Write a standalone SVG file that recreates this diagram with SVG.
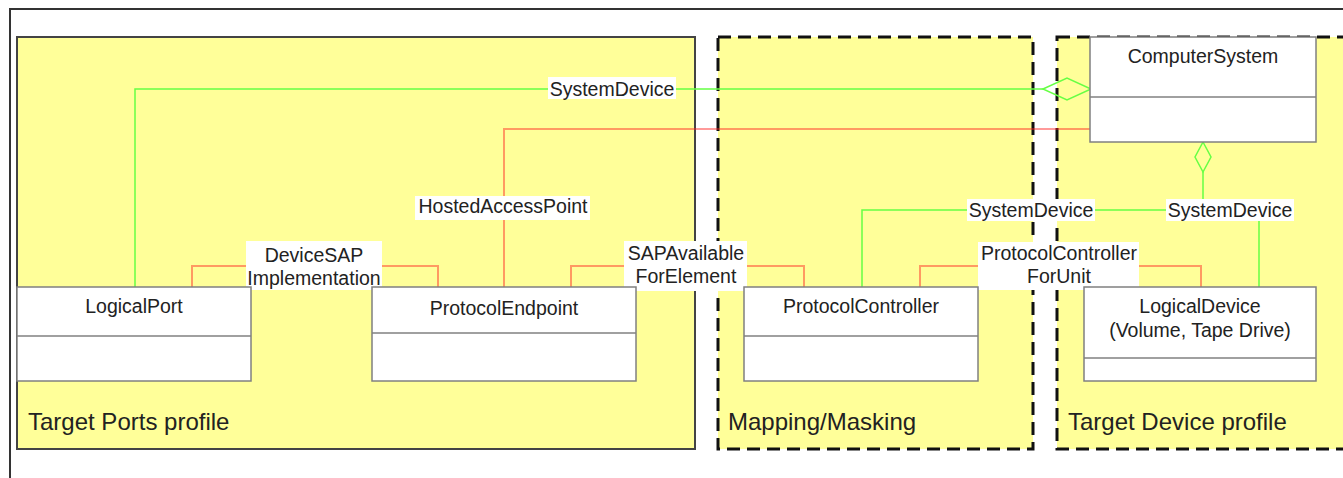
<svg xmlns="http://www.w3.org/2000/svg" width="1343" height="478" viewBox="0 0 1343 478">
<style>
text{font-family:"Liberation Sans",Arial,sans-serif;fill:#222}
.panel{fill:#ffff99}
.solid{stroke:#444;stroke-width:2}
.dash{stroke:#111;stroke-width:3;stroke-dasharray:13 7}
.box{fill:#fff;stroke:#808080;stroke-width:1.5}
.div{stroke:#808080;stroke-width:1.5}
.nt{font-size:19.5px;text-anchor:middle}
.pt{font-size:24px}
.g{fill:none;stroke:#66ff44;stroke-width:1.5}
.o{fill:none;stroke:#ff2020;stroke-opacity:0.45;stroke-width:2}
.lb{fill:#fff}
.lt{font-size:19.5px;text-anchor:middle}
</style>
<rect x="0" y="0" width="1343" height="478" fill="#fff"/>
<rect x="10" y="9" width="1400" height="500" fill="none" stroke="#333" stroke-width="2"/>
<g id="panel-target-ports">
<rect class="panel solid" x="17" y="37" width="678" height="412"/>
<text class="pt" x="28" y="430">Target Ports profile</text>
</g>
<g id="panel-mapping-masking">
<rect class="panel dash" x="718" y="37" width="315" height="412"/>
<text class="pt" x="728" y="430">Mapping/Masking</text>
</g>
<g id="panel-target-device">
<rect class="panel dash" x="1057" y="37" width="360" height="412"/>
<text class="pt" x="1068" y="430">Target Device profile</text>
</g>
<g id="connectors">
<polyline class="g" points="135,287 135,89 1043,89"/>
<polygon class="g" points="1043,89 1067,78 1091,89 1067,100"/>
<polyline class="o" points="504,287 504,129 1090,129"/>
<polyline class="o" points="192,287 192,266 438,266 438,287"/>
<polyline class="o" points="571,287 571,266 804,266 804,287"/>
<polyline class="o" points="920,287 920,266 1201,266 1201,287"/>
<polyline class="g" points="862,287 862,210 1203,210"/>
<polyline class="g" points="1259,287 1259,210 1203,210 1203,172"/>
<polygon class="g" points="1203,142 1211,157 1203,172 1195,157"/>
<rect class="lb" x="548" y="77" width="128" height="22"/>
<text class="lt" x="612" y="96">SystemDevice</text>
<rect class="lb" x="415" y="196" width="175" height="24"/>
<text class="lt" x="503" y="213">HostedAccessPoint</text>
<rect class="lb" x="246" y="241" width="136" height="49"/>
<text class="lt" x="314" y="262">DeviceSAP</text>
<text class="lt" x="314" y="285">Implementation</text>
<rect class="lb" x="624" y="241" width="123" height="50"/>
<text class="lt" x="686" y="260">SAPAvailable</text>
<text class="lt" x="686" y="283">ForElement</text>
<rect class="lb" x="978" y="242" width="161" height="48"/>
<text class="lt" x="1059" y="260">ProtocolController</text>
<text class="lt" x="1059" y="283">ForUnit</text>
<rect class="lb" x="967" y="199" width="128" height="22"/>
<text class="lt" x="1031" y="217">SystemDevice</text>
<rect class="lb" x="1166" y="199" width="128" height="22"/>
<text class="lt" x="1230" y="217">SystemDevice</text>
</g>
<g id="node-computersystem">
<rect class="box" x="1090" y="37" width="226" height="105"/>
<line class="div" x1="1090" y1="97" x2="1316" y2="97"/>
<text class="nt" x="1203" y="63">ComputerSystem</text>
</g>
<g id="node-logicalport">
<rect class="box" x="17" y="287" width="234" height="94"/>
<line class="div" x1="17" y1="336" x2="251" y2="336"/>
<text class="nt" x="134" y="313">LogicalPort</text>
</g>
<g id="node-protocolendpoint">
<rect class="box" x="372" y="287" width="264" height="94"/>
<line class="div" x1="372" y1="333" x2="636" y2="333"/>
<text class="nt" x="504" y="315">ProtocolEndpoint</text>
</g>
<g id="node-protocolcontroller">
<rect class="box" x="744" y="287" width="234" height="94"/>
<line class="div" x1="744" y1="336" x2="978" y2="336"/>
<text class="nt" x="861" y="313">ProtocolController</text>
</g>
<g id="node-logicaldevice">
<rect class="box" x="1084" y="287" width="232" height="94"/>
<line class="div" x1="1084" y1="358" x2="1316" y2="358"/>
<text class="nt" x="1200" y="313">LogicalDevice</text>
<text class="nt" x="1200" y="337">(Volume, Tape Drive)</text>
</g>
</svg>
